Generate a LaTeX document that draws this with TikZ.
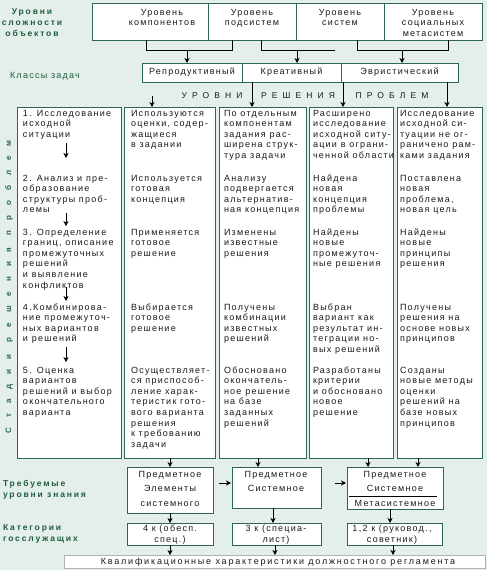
\documentclass[tikz,border=0pt]{standalone}
\usepackage{fontspec}
\setmainfont{Liberation Sans}
\newfontfamily\tf{Liberation Sans}[LetterSpace=14]
\newfontfamily\wf{Liberation Sans}[LetterSpace=20]
\newfontfamily\blf{Liberation Sans}[LetterSpace=22]
\newfontfamily\hf{Liberation Sans}[LetterSpace=60]
\newfontfamily\rf{Liberation Sans}[LetterSpace=125]
\usetikzlibrary{arrows.meta}
\definecolor{bg}{HTML}{E4EFEA}
\definecolor{bord}{HTML}{2C6657}
\definecolor{lab}{HTML}{1F5B42}
\definecolor{ink}{HTML}{1A1A1A}
\newcommand{\ltab}[1]{\begin{tabular}[t]{@{}l@{}}#1\end{tabular}}
\newcommand{\ctab}[1]{\begin{tabular}[t]{@{}c@{}}#1\end{tabular}}
\begin{document}
\begin{tikzpicture}[x=1pt,y=-1pt,
  every node/.style={inner sep=0pt,outer sep=0pt,text=ink},
  box/.style={draw=bord,fill=white,line width=1pt,anchor=north west},
  txt/.style={anchor=base west,font=\tf\fontsize{9}{10.6}\selectfont},
  ctxt/.style={anchor=base,font=\tf\fontsize{9}{10.6}\selectfont},
  ltxt/.style={font=\blf\bfseries\fontsize{8.5}{11}\selectfont,text=lab},
  arr/.style={-{Stealth[length=5pt,width=5pt,inset=1.5pt]},line width=0.8pt,black},
  ln/.style={line width=0.8pt,black}]
\fill[bg] (0,0) rectangle (487,570);
\useasboundingbox (0,0) rectangle (487,570);

% left labels
\node[ltxt,anchor=base] (lab1) at (32,14) {\ctab{Уровни\\сложности\\объектов}};
\node[anchor=base west,font=\tf\fontsize{9}{10.6}\selectfont,text=lab] (lab2) at (10,78) {Классы задач};
\node[ltxt,anchor=base west] (lab3) at (3,486) {\ltab{Требуемые\\уровни знания}};
\node[ltxt,anchor=base west] (lab4) at (3,530) {\ltab{Категории\\госслужащих}};
\node[rotate=90,font=\rf\bfseries\fontsize{8}{10}\selectfont,text=bord] (lab5) at (9,287) {Стадии решения проблем};

% top boxes
\node[box,minimum width=116pt,minimum height=37pt] (t1) at (92,3) {};
\node[box,minimum width=88pt,minimum height=37pt] (t2) at (208,3) {};
\node[box,minimum width=88pt,minimum height=37pt] (t3) at (296,3) {};
\node[box,minimum width=98pt,minimum height=37pt] (t4) at (384,3) {};
\node[ctxt] (t1t) at (162,15) {\ctab{Уровень\\компонентов}};
\node[ctxt] (t2t) at (252,15) {\ctab{Уровень\\подсистем}};
\node[ctxt] (t3t) at (340,15) {\ctab{Уровень\\систем}};
\node[ctxt] (t4t) at (433,15) {\ctab{Уровень\\социальных\\метасистем}};

% class boxes
\node[box,minimum width=100pt,minimum height=19pt,font=\tf\fontsize{9}{10.6}\selectfont] (r1) at (142,63) {Репродуктивный};
\node[box,minimum width=99pt,minimum height=19pt,font=\tf\fontsize{9}{10.6}\selectfont] (r2) at (242,63) {Креативный};
\node[box,minimum width=117pt,minimum height=19pt,font=\tf\fontsize{9}{10.6}\selectfont] (r3) at (341,63) {Эвристический};

% brackets top
\draw[ln] ([xshift=-4pt]t1.south) -- ++(0,10) -| ([xshift=-20pt]t2.south);
\coordinate (j1) at (187,50);
\draw[arr] (j1) -- (j1 |- r1.north);
\coordinate (j2e) at (335,50);
\draw[ln] ([xshift=9pt]t2.south) |- (j2e);
\coordinate (j2) at (297,50);
\draw[arr] (j2) -- (j2 |- r2.north);
\draw[ln] ([xshift=17pt]t3.south) -- ++(0,10) -| ([xshift=15pt]t4.south);
\coordinate (j3) at (402,50);
\draw[arr] (j3) -- (j3 |- r3.north);

% heading
\node[anchor=base,font=\hf\fontsize{8.5}{10}\selectfont] (h1) at (212,98) {УРОВНИ};
\node[anchor=base,font=\hf\fontsize{8.5}{10}\selectfont] (h2) at (298,98) {РЕШЕНИЯ};
\node[anchor=base,font=\hf\fontsize{8.5}{10}\selectfont] (h3) at (392,98) {ПРОБЛЕМ};

% columns
\node[box,minimum width=104pt,minimum height=351pt] (c1) at (17,107) {};
\node[box,minimum width=91pt,minimum height=351pt] (c2) at (124,107) {};
\node[box,minimum width=87pt,minimum height=351pt] (c3) at (219,107) {};
\node[box,minimum width=84pt,minimum height=351pt] (c4) at (309,107) {};
\node[box,minimum width=85pt,minimum height=351pt] (c5) at (397,107) {};

% arrows into columns
\coordinate (a1) at (152,96);
\draw[arr] (a1) -- (a1 |- c2.north);
\draw[arr] (r2.south -| 252,0) -- (c3.north -| 252,0);
\draw[arr] (r2.south -| 343,0) -- (c4.north -| 343,0);
\draw[arr] (r3.south -| 447,0) -- (c5.north -| 447,0);

% column 1
\node[txt] (s11) at (23,116) {\ltab{1. Исследование\\исходной\\ситуации}};
\node[txt] (s12) at (23,181) {\ltab{2. Анализ и пре-\\образование\\структуры проб-\\лемы}};
\node[txt] (s13) at (23,235) {\ltab{3. Определение\\границ, описание\\промежуточных\\решений\\и выявление\\конфликтов}};
\node[txt] (s14) at (23,310) {\ltab{4.Комбинирова-\\ние промежуточ-\\ных вариантов\\и решений}};
\node[txt] (s15) at (23,373) {\ltab{5. Оценка\\вариантов\\решений и выбор\\окончательного\\варианта}};
\coordinate (b1) at (66,143); \coordinate (e1) at (66,158);
\coordinate (b2) at (66,213); \coordinate (e2) at (66,226);
\coordinate (b3) at (66,287); \coordinate (e3) at (66,301);
\coordinate (b4) at (66,347); \coordinate (e4) at (66,362);
\draw[arr] (b1) -- (e1);
\draw[arr] (b2) -- (e2);
\draw[arr] (b3) -- (e3);
\draw[arr] (b4) -- (e4);

% column 2
\node[txt] (s21) at (131,116) {\ltab{Используются\\оценки, содер-\\жащиеся\\в задании}};
\node[txt] (s22) at (131,181) {\ltab{Используется\\готовая\\концепция}};
\node[txt] (s23) at (131,235) {\ltab{Применяется\\готовое\\решение}};
\node[txt] (s24) at (131,310) {\ltab{Выбирается\\готовое\\решение}};
\node[txt] (s25) at (131,373) {\ltab{Осуществляет-\\ся приспособ-\\ление харак-\\теристик гото-\\вого варианта\\решения\\к требованию\\задачи}};

% column 3
\node[txt] (s31) at (224,116) {\ltab{По отдельным\\компонентам\\задания рас-\\ширена струк-\\тура задачи}};
\node[txt] (s32) at (224,181) {\ltab{Анализу\\подвергается\\альтернатив-\\ная концепция}};
\node[txt] (s33) at (224,235) {\ltab{Изменены\\известные\\решения}};
\node[txt] (s34) at (224,310) {\ltab{Получены\\комбинации\\известных\\решений}};
\node[txt] (s35) at (224,373) {\ltab{Обосновано\\окончатель-\\ное решение\\на базе\\заданных\\решений}};

% column 4
\node[txt] (s41) at (313,116) {\ltab{Расширено\\исследование\\исходной ситу-\\ации в ограни-\\ченной области}};
\node[txt] (s42) at (313,181) {\ltab{Найдена\\новая\\концепция\\проблемы}};
\node[txt] (s43) at (313,235) {\ltab{Найдены\\новые\\промежуточ-\\ные решения}};
\node[txt] (s44) at (313,310) {\ltab{Выбран\\вариант как\\результат ин-\\теграции но-\\вых решений}};
\node[txt] (s45) at (313,373) {\ltab{Разработаны\\критерии\\и обосновано\\новое\\решение}};

% column 5
\node[txt] (s51) at (400,116) {\ltab{Исследование\\исходной си-\\туации не ог-\\раничено рам-\\ками задания}};
\node[txt] (s52) at (400,181) {\ltab{Поставлена\\новая\\проблема,\\новая цель}};
\node[txt] (s53) at (400,235) {\ltab{Найдены\\новые\\принципы\\решения}};
\node[txt] (s54) at (400,310) {\ltab{Получены\\решения на\\основе новых\\принципов}};
\node[txt] (s55) at (400,373) {\ltab{Созданы\\новые методы\\оценки\\решений на\\базе новых\\принципов}};

% knowledge boxes
\node[box,minimum width=86pt,minimum height=46pt] (kA) at (127,467) {};
\node[box,minimum width=89pt,minimum height=41pt] (kB) at (232,467) {};
\node[box,minimum width=96pt,minimum height=42pt] (kC) at (347,467) {};
\node[ctxt,font=\tf\fontsize{9}{14.5}\selectfont] (kAt) at (170,477) {\ctab{Предметное\\Элементы\\системного}};
\node[ctxt,font=\tf\fontsize{9}{14}\selectfont] (kBt) at (276,477) {\ctab{Предметное\\Системное}};
\node[ctxt] (kCt1) at (395,477) {Предметное};
\node[ctxt] (kCt2) at (395,491) {Системное};
\node[ctxt] (kCt3) at (395,506) {Метасистемное};
\coordinate (kl1) at (349,496);
\coordinate (kl2) at (437,496);
\draw[ln] (kl1) -- (kl2);

\draw[arr] (c2.south -| 170,0) -- (kA.north -| 170,0);
\draw[arr] (c3.south -| 258,0) -- (kB.north -| 258,0);
\draw[arr] (c4.south -| 368,0) -- (kC.north -| 368,0);
\draw[arr] (c5.south -| 418,0) -- (kC.north -| 418,0);
\draw[arr,shorten <=6pt,shorten >=1pt] (kA.east |- 0,483) -- (kB.west |- 0,483);
\draw[arr,shorten <=14pt,shorten >=1pt] (kB.east |- 0,483) -- (kC.west |- 0,483);

% category boxes
\node[box,minimum width=86pt,minimum height=22pt] (g1) at (127,523) {};
\node[box,minimum width=89pt,minimum height=22pt] (g2) at (232,523) {};
\node[box,minimum width=95pt,minimum height=22pt] (g3) at (347,523) {};
\node[ctxt,font=\tf\fontsize{9}{11.5}\selectfont] (g1t) at (170,531) {\ctab{4 к (обесп.\\спец.)}};
\node[ctxt,font=\tf\fontsize{9}{11.5}\selectfont] (g2t) at (276,531) {\ctab{3 к (специа-\\лист)}};
\node[ctxt,font=\tf\fontsize{9}{11.5}\selectfont] (g3t) at (392,531) {\ctab{1,2 к (руковод.,\\советник)}};

\draw[arr] (kA.south -| 170,0) -- (g1.north -| 170,0);
\draw[arr] (kB.south -| 273,0) -- (g2.north -| 273,0);
\draw[arr] (kC.south -| 390,0) -- (g3.north -| 390,0);

% bottom bar
\node[draw=gray!60,fill=white,line width=0.6pt,anchor=north west,minimum width=421pt,minimum height=13pt] (bar) at (64,555) {};
\node[anchor=base,font=\wf\fontsize{9}{10}\selectfont] (bart) at (278,564) {Квалификационные характеристики должностного регламента};

\draw[arr] (g1.south -| 170,0) -- (bar.north -| 170,0);
\draw[arr] (g2.south -| 275,0) -- (bar.north -| 275,0);
\draw[arr] (g3.south -| 393,0) -- (bar.north -| 393,0);
\end{tikzpicture}
\end{document}
